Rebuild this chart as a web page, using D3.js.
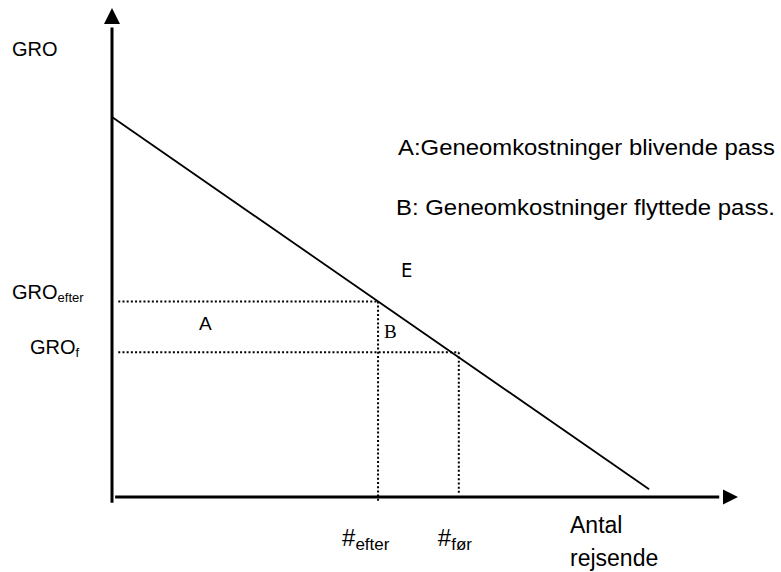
<!DOCTYPE html>
<html>
<head>
<meta charset="utf-8">
<script src="https://cdn.jsdelivr.net/npm/d3@7"></script>
<style>
  body { margin: 0; background: #fff; }
  svg text { font-family: "Liberation Sans", Arial, Helvetica, sans-serif; fill: #000; }
</style>
</head>
<body>
<svg id="myCanvas" width="781" height="572"></svg>
<script>
// demand curve (GRO against number of travellers), in chart units 0..100
let demandX = [0, 85.8];
let demandY = [77.7, 1.6];

// equilibrium levels before / after
let levelNames = ['efter', 'før'];
let levelX = [42.5, 55.4];   // #efter, #før
let levelY = [40.0, 29.6];   // GROefter, GROf

let legendLines = ['A:Geneomkostninger blivende pass', 'B: Geneomkostninger flyttede pass.'];
let xTitle = ['Antal', 'rejsende'];

let canvas = d3.select('#myCanvas');

let xScale = d3.scaleLinear().domain([0, 100]).range([112, 738]);
let yScale = d3.scaleLinear().domain([0, 100]).range([497, 8]);

// axes
canvas.append('line')
  .attr('x1', xScale(0)).attr('y1', yScale(-1.2))
  .attr('x2', xScale(0)).attr('y2', yScale(96))
  .attr('stroke', '#000').attr('stroke-width', 3);

canvas.append('line')
  .attr('x1', xScale(0.5)).attr('y1', yScale(0))
  .attr('x2', xScale(97)).attr('y2', yScale(0))
  .attr('stroke', '#000').attr('stroke-width', 3);

// arrow heads
let yTip = [xScale(0), yScale(100)];
canvas.append('path')
  .attr('d', 'M' + yTip[0] + ',' + yTip[1] + ' L' + (yTip[0] - 8) + ',' + (yTip[1] + 16) + ' L' + (yTip[0] + 8) + ',' + (yTip[1] + 16) + ' Z')
  .attr('fill', '#000');

let xTip = [xScale(100), yScale(0)];
canvas.append('path')
  .attr('d', 'M' + xTip[0] + ',' + xTip[1] + ' L' + (xTip[0] - 15) + ',' + (xTip[1] - 7.5) + ' L' + (xTip[0] - 15) + ',' + (xTip[1] + 7.5) + ' Z')
  .attr('fill', '#000');

// demand line
canvas.append('line')
  .attr('x1', xScale(demandX[0])).attr('y1', yScale(demandY[0]))
  .attr('x2', xScale(demandX[1])).attr('y2', yScale(demandY[1]))
  .attr('stroke', '#000').attr('stroke-width', 1.8);

// dotted guides
let dotted = (x1, y1, x2, y2) => {
  canvas.append('line')
    .attr('x1', xScale(x1)).attr('y1', yScale(y1))
    .attr('x2', xScale(x2)).attr('y2', yScale(y2))
    .attr('stroke', '#000')
    .attr('stroke-width', 2)
    .attr('stroke-dasharray', '2,2.2');
};

levelX.forEach((lx, i) => {
  dotted(1, levelY[i], lx, levelY[i]);
  dotted(lx, levelY[i], lx, i === 0 ? -1 : 0.5);
});

// y axis labels
canvas.append('text').attr('x', 12).attr('y', 56)
  .style('font-size', '20px').text('GRO');

let groEfter = canvas.append('text').attr('x', 12).attr('y', yScale(levelY[0]) - 2)
  .style('font-size', '20px');
groEfter.append('tspan').text('GRO');
groEfter.append('tspan').attr('dy', 3).style('font-size', '13px').text(levelNames[0]);

let groF = canvas.append('text').attr('x', 30).attr('y', yScale(levelY[1]) + 2)
  .style('font-size', '20px');
groF.append('tspan').text('GRO');
groF.append('tspan').attr('dy', 3).style('font-size', '13px').text('f');

// area labels
canvas.append('text').attr('x', 199).attr('y', 330)
  .style('font-size', '19px').text('A');

canvas.append('text').attr('x', xScale(levelX[0]) + 6).attr('y', 338)
  .style('font-family', '"Liberation Serif", "Times New Roman", serif')
  .style('font-size', '19px').text('B');

canvas.append('text').attr('x', 401).attr('y', 277)
  .style('font-family', '"Liberation Sans Narrow", "DejaVu Sans Condensed", sans-serif')
  .style('font-size', '20px').text('E');

// legend
canvas.selectAll('.legend')
  .data(legendLines)
  .enter()
  .append('text')
  .attr('class', 'legend')
  .attr('x', (d, i) => i === 0 ? 398 : 396)
  .attr('y', (d, i) => 155 + i * 60)
  .attr('textLength', (d, i) => i === 0 ? 377 : 379)
  .attr('lengthAdjust', 'spacingAndGlyphs')
  .style('font-size', '22px')
  .text((d) => d);

// x axis labels
levelX.forEach((lx, i) => {
  let t = canvas.append('text')
    .attr('x', xScale(lx) - 36 + i * 15)
    .attr('y', 546)
    .style('font-size', '24px');
  t.append('tspan').text('#');
  t.append('tspan').attr('dy', 4).style('font-size', '17px').text(levelNames[i]);
});

canvas.selectAll('.xtitle')
  .data(xTitle)
  .enter()
  .append('text')
  .attr('class', 'xtitle')
  .attr('x', 570)
  .attr('y', (d, i) => 533 + i * 33)
  .style('font-size', '23px')
  .text((d) => d);
</script>
</body>
</html>
